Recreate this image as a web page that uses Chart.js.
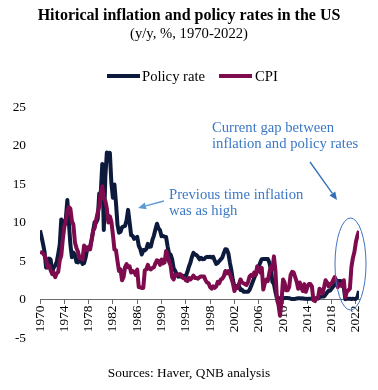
<!DOCTYPE html>
<html><head><meta charset="utf-8">
<script src="https://cdn.jsdelivr.net/npm/chart.js@4.4.0/dist/chart.umd.min.js"></script>
<style>html,body{margin:0;padding:0;background:#fff}#wrap{width:378px;height:390px;position:relative}canvas{display:block}</style>
</head><body><div id="wrap"><canvas id="c" width="378" height="390"></canvas></div>
<script>
// ---------- DATA (quarterly, Jan/Apr/Jul/Oct, from 1970) ----------
const startYear = 1970;
const stepYears = 0.25;
const tickYears = [1970,1974,1978,1982,1986,1990,1994,1998,2002,2006,2010,2014,2018,2022];
const yTicks = [-5,0,5,10,15,20,25];
const seriesNames = ['Policy rate','CPI'];

const policyRate = [
 8.98,8.15,7.21,6.20,   4.14,4.16,5.31,5.20,   3.50,4.17,4.40,4.87,   5.94,7.12,10.40,10.01,
 9.65,10.51,12.92,10.06, 7.13,5.49,6.10,5.82,  4.87,4.82,5.31,5.03,   4.61,4.73,5.42,6.47,
 6.70,6.90,7.81,8.96,   10.07,10.01,10.47,13.77, 13.82,17.61,9.03,15.85, 19.08,18.52,19.04,15.08,
 13.22,14.94,12.59,9.71, 8.68,8.80,9.37,9.48,  9.56,10.29,11.64,9.99,  8.35,8.27,7.88,7.99,
 8.14,6.99,6.56,5.85,   6.43,6.36,6.58,7.22,   6.83,6.87,7.75,8.30,   9.12,9.84,9.24,8.99,
 8.23,8.26,8.15,8.11,   6.91,5.91,5.82,5.21,   4.03,3.73,3.25,2.96,   3.02,2.96,3.06,2.99,
 3.05,3.56,4.26,4.76,   5.53,6.05,5.85,5.76,   5.56,5.22,5.40,5.24,   5.25,5.45,5.54,5.50,
 5.56,5.45,5.54,5.07,   4.63,4.74,4.99,5.20,   5.45,6.02,6.54,6.51,   5.98,4.80,3.77,2.49,
 1.73,1.75,1.73,1.75,   1.24,1.26,1.01,1.01,   1.00,1.00,1.26,1.76,   2.28,2.79,3.26,3.78,
 4.29,4.79,5.24,5.25,   5.25,5.25,5.26,4.76,   3.94,2.28,2.01,0.97,   0.15,0.15,0.16,0.12,
 0.11,0.20,0.18,0.19,   0.17,0.10,0.07,0.07,   0.08,0.14,0.16,0.16,   0.14,0.15,0.09,0.09,
 0.07,0.09,0.09,0.09,   0.11,0.12,0.13,0.12,   0.34,0.37,0.39,0.40,   0.65,0.90,1.15,1.15,
 1.41,1.69,1.91,2.19,   2.40,2.42,2.40,1.83,   1.55,0.05,0.09,0.09,   0.09,0.07,0.10,0.08,
 0.08,0.33,1.10
];

const cpi = [
 6.2,6.1,6.0,5.7,   5.3,4.2,4.4,3.8,   3.3,3.5,2.9,3.4,   3.6,5.1,5.7,7.8,
 9.4,10.2,11.5,12.0, 11.8,10.2,9.7,7.4, 6.7,6.2,5.4,5.4,   5.2,7.0,6.8,6.4,
 6.8,6.5,7.7,8.9,   9.3,10.4,11.3,12.1, 13.9,14.7,13.1,12.8, 11.8,10.0,10.8,10.1,
 8.4,6.5,6.4,5.0,   3.7,3.9,2.5,2.9,   4.2,4.6,4.2,4.3,   3.5,3.7,3.6,3.2,
 3.9,1.6,1.6,1.5,   1.5,3.8,3.9,4.5,   4.0,3.9,4.1,4.2,   4.7,5.1,5.0,4.5,
 5.2,4.7,4.8,6.3,   5.7,4.9,4.4,2.9,   2.6,3.2,3.2,3.2,   3.3,3.2,2.8,2.8,
 2.5,2.4,2.8,2.6,   2.8,3.1,2.8,2.8,   2.7,2.9,3.0,3.0,   3.0,2.5,2.2,2.1,
 1.6,1.4,1.7,1.5,   1.7,2.3,2.1,2.6,   2.7,3.0,3.7,3.4,   3.7,3.3,2.7,2.1,
 1.1,1.6,1.5,2.0,   2.6,2.2,2.1,2.0,   1.9,2.3,3.0,3.2,   3.0,3.5,3.2,4.3,
 4.0,3.5,4.1,1.3,   2.1,2.6,2.4,3.5,   4.3,3.9,5.6,3.7,   0.0,-0.7,-2.1,-0.2,
 2.6,2.2,1.2,1.2,   1.6,3.2,3.6,3.5,   2.9,2.3,1.4,2.2,   1.6,1.1,2.0,1.0,
 1.6,2.0,2.0,1.7,   -0.1,-0.2,0.2,0.2, 1.4,1.1,0.8,1.6,   2.5,2.2,1.7,2.0,
 2.1,2.5,2.9,2.5,   1.6,2.0,1.8,1.8,   2.5,0.3,1.0,1.2,   1.4,4.2,5.4,6.2,
 7.5,8.3,8.9
];

const dates = policyRate.map((_, i) => startYear + i * stepYears);

// ---------- STYLE ----------
const SERIF = '"Liberation Serif", "Times New Roman", serif';
const NAVY = '#0c1a3c';
const MAROON = '#7d0b4d';
const BLUE_TXT = '#3b78c6';

const decor = {
  id: 'decor',
  afterDraw(chart) {
    const ctx = chart.ctx;
    ctx.save();
    ctx.textBaseline = 'middle';
    // title
    ctx.fillStyle = '#000';
    ctx.textAlign = 'center';
    ctx.font = 'bold 16px ' + SERIF;
    ctx.fillText('Hitorical inflation and policy rates in the US', 189, 16);
    ctx.font = '14.67px ' + SERIF;
    ctx.fillText('(y/y, %, 1970-2022)', 189, 34);
    // legend
    ctx.lineWidth = 4;
    ctx.lineCap = 'butt';
    ctx.strokeStyle = NAVY;
    ctx.beginPath(); ctx.moveTo(107, 76); ctx.lineTo(140, 76); ctx.stroke();
    ctx.strokeStyle = MAROON;
    ctx.beginPath(); ctx.moveTo(219, 76); ctx.lineTo(252, 76); ctx.stroke();
    ctx.textAlign = 'left';
    ctx.fillStyle = '#000';
    ctx.font = '14.67px ' + SERIF;
    ctx.fillText(seriesNames[0], 142, 77);
    ctx.fillText(seriesNames[1], 255, 77);
    // source
    ctx.textAlign = 'center';
    ctx.font = '13.33px ' + SERIF;
    ctx.fillText('Sources: Haver, QNB analysis', 189, 373);
    // annotations
    ctx.textAlign = 'left';
    ctx.fillStyle = BLUE_TXT;
    ctx.font = '14.67px ' + SERIF;
    ctx.fillText('Current gap between', 212, 128);
    ctx.fillText('inflation and policy rates', 212, 144.5);
    ctx.fillText('Previous time inflation', 169, 195);
    ctx.fillText('was as high', 169, 211.5);
    // arrows
    function arrow(x1, y1, x2, y2, color) {
      ctx.strokeStyle = color; ctx.fillStyle = color; ctx.lineWidth = 1.3;
      const a = Math.atan2(y2 - y1, x2 - x1);
      const L = 8, W = 3.5;
      const bx = x2 - L * Math.cos(a), by = y2 - L * Math.sin(a);
      ctx.beginPath(); ctx.moveTo(x1, y1); ctx.lineTo(bx, by); ctx.stroke();
      ctx.beginPath();
      ctx.moveTo(x2, y2);
      ctx.lineTo(bx + W * Math.sin(a), by - W * Math.cos(a));
      ctx.lineTo(bx - W * Math.sin(a), by + W * Math.cos(a));
      ctx.closePath(); ctx.fill();
    }
    arrow(164, 201, 138, 208, '#5b9bd5');
    arrow(310, 162, 337, 200, '#2e6fb8');
    // ellipse
    ctx.strokeStyle = '#3f72c0'; ctx.lineWidth = 1;
    ctx.beginPath(); ctx.ellipse(350.5, 264, 15.5, 46, 0, 0, Math.PI * 2); ctx.stroke();
    ctx.restore();
  }
};

new Chart(document.getElementById('c'), {
  type: 'line',
  data: {
    datasets: [
      { label: seriesNames[0], data: dates.map((d, i) => ({x: d, y: policyRate[i]})),
        borderColor: NAVY, backgroundColor: NAVY, borderWidth: 4, borderJoinStyle: 'round',
        pointRadius: 0, tension: 0, order: 1 },
      { label: seriesNames[1], data: dates.map((d, i) => ({x: d, y: cpi[i]})),
        borderColor: MAROON, backgroundColor: MAROON, borderWidth: 4, borderJoinStyle: 'round',
        pointRadius: 0, tension: 0, order: 0 }
    ]
  },
  options: {
    responsive: false,
    animation: false,
    devicePixelRatio: 1,
    layout: { padding: { top: 107, bottom: 52, left: 0, right: 19 } },
    plugins: { legend: { display: false }, title: { display: false }, tooltip: { enabled: false } },
    scales: {
      x: {
        type: 'linear',
        position: { y: 0 },
        min: 1970, max: 2022.5,
        afterBuildTicks: s => { s.ticks = tickYears.map(v => ({ value: v })); },
        ticks: { autoSkip: false, minRotation: 90, maxRotation: 90, padding: 2,
                 color: '#000', font: { family: SERIF, size: 13.33 },
                 callback: v => String(v) },
        grid: { display: true, drawOnChartArea: false, drawTicks: true, tickLength: 4, color: '#6b6b6b', lineWidth: 1 },
        border: { display: true, color: '#6b6b6b', width: 1 }
      },
      y: {
        min: -5, max: 25,
        afterFit: s => { s.width = 40; },
        afterBuildTicks: s => { s.ticks = yTicks.map(v => ({ value: v })); },
        ticks: { padding: 14, color: '#000', font: { family: SERIF, size: 13.33 } },
        grid: { display: false, drawTicks: false },
        border: { display: false }
      }
    }
  },
  plugins: [decor]
});
</script>
</body></html>
